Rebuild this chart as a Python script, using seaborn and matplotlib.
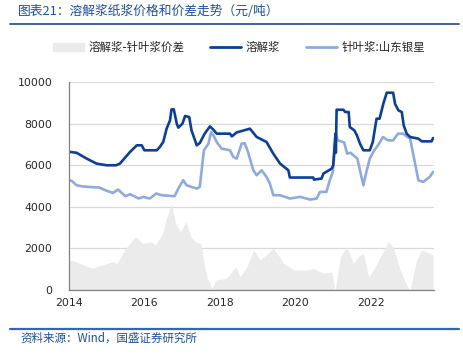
import matplotlib.pyplot as plt
import matplotlib.lines as mlines
import matplotlib.patches as mpatches
import pandas as pd
import seaborn as sns

# 溶解浆 (dark line), fractional year / price
dis_year = [2014.0, 2014.2, 2014.47, 2014.73, 2015.0, 2015.25, 2015.35, 2015.62, 2015.8, 2015.93,
            2016.0, 2016.33, 2016.41, 2016.5, 2016.59, 2016.68, 2016.72, 2016.78, 2016.86, 2016.9,
            2017.01, 2017.08, 2017.19, 2017.25, 2017.39, 2017.47, 2017.6, 2017.74, 2017.83, 2017.92,
            2018.0, 2018.27, 2018.32, 2018.45, 2018.8, 2018.98, 2019.24, 2019.42, 2019.6, 2019.82,
            2019.86, 2020.48, 2020.5, 2020.7, 2020.75, 2020.97, 2021.01, 2021.07, 2021.08, 2021.1,
            2021.14, 2021.28, 2021.33, 2021.42, 2021.45, 2021.57, 2021.64, 2021.72, 2021.81, 2021.98,
            2022.06, 2022.16, 2022.24, 2022.34, 2022.43, 2022.6, 2022.65, 2022.74, 2022.83, 2022.88,
            2022.96, 2023.05, 2023.27, 2023.36, 2023.62, 2023.66]
dis_price = [6650, 6600, 6320, 6080, 6000, 6000, 6080, 6640, 6960, 6960,
             6720, 6720, 6880, 7120, 7760, 8160, 8690, 8690, 8000, 7810,
             8000, 8370, 8320, 7680, 6960, 7070, 7520, 7870, 7710, 7520,
             7520, 7520, 7390, 7580, 7760, 7360, 7120, 6560, 6080, 5760,
             5410, 5410, 5310, 5360, 5600, 5840, 6000, 7520, 6600, 8670,
             8670, 8670, 8560, 8560, 7840, 7680, 7440, 7040, 6720, 6720,
             7120, 8240, 8240, 8960, 9490, 9490, 8960, 8640, 8560, 7920,
             7520, 7360, 7280, 7150, 7150, 7310]

# 针叶浆:山东银星 (light line)
sw_year = [2014.0, 2014.07, 2014.2, 2014.33, 2014.5, 2014.8, 2015.0, 2015.17, 2015.3, 2015.5,
           2015.62, 2015.85, 2015.97, 2016.14, 2016.32, 2016.45, 2016.8, 2016.9, 2017.03, 2017.12,
           2017.25, 2017.39, 2017.47, 2017.52, 2017.58, 2017.7, 2017.77, 2017.83, 2017.92, 2018.05,
           2018.27, 2018.36, 2018.45, 2018.58, 2018.66, 2018.75, 2018.89, 2018.98, 2019.11, 2019.24,
           2019.33, 2019.42, 2019.6, 2019.86, 2020.13, 2020.4, 2020.57, 2020.66, 2020.83, 2020.92,
           2021.0, 2021.04, 2021.08, 2021.13, 2021.3, 2021.38, 2021.47, 2021.65, 2021.72, 2021.81,
           2021.88, 2021.98, 2022.1, 2022.2, 2022.33, 2022.46, 2022.6, 2022.73, 2022.86, 2023.05,
           2023.13, 2023.27, 2023.4, 2023.57, 2023.66]
sw_price = [5280, 5250, 5040, 4990, 4960, 4930, 4770, 4670, 4830, 4510,
            4610, 4400, 4480, 4400, 4640, 4560, 4510, 4880, 5280, 5040,
            4960, 4880, 4960, 5760, 6720, 7040, 7600, 7440, 7120, 6800,
            6720, 6400, 6320, 7040, 7060, 6640, 5760, 5520, 5760, 5440,
            5120, 4560, 4560, 4400, 4480, 4350, 4400, 4720, 4720, 5280,
            5680, 6560, 7520, 7200, 7100, 6560, 6600, 6320, 5760, 5040,
            5600, 6320, 6720, 6960, 7360, 7200, 7200, 7520, 7520, 7280,
            6560, 5280, 5200, 5440, 5680]

# 溶解浆-针叶浆价差 (grey area)
gap_year = [2014.0, 2014.18, 2014.62, 2014.88, 2015.15, 2015.28, 2015.5, 2015.77, 2015.95, 2016.17,
            2016.3, 2016.48, 2016.6, 2016.72, 2016.83, 2016.96, 2017.1, 2017.23, 2017.36, 2017.5,
            2017.58, 2017.67, 2017.79, 2017.9, 2018.17, 2018.43, 2018.54, 2018.72, 2018.9, 2019.07,
            2019.43, 2019.7, 2019.96, 2020.31, 2020.49, 2020.75, 2020.97, 2021.06, 2021.2, 2021.37,
            2021.55, 2021.68, 2021.81, 2021.95, 2022.08, 2022.26, 2022.48, 2022.61, 2022.79, 2022.96,
            2023.05, 2023.22, 2023.36, 2023.66]
gap_value = [1440, 1360, 1040, 1200, 1360, 1280, 2000, 2560, 2240, 2320,
             2160, 2720, 3520, 4160, 3200, 2800, 3280, 2560, 2320, 2240,
             1280, 560, 80, 480, 560, 1120, 640, 1120, 1920, 1440,
             2000, 1280, 960, 960, 1040, 800, 880, 0, 1600, 2080,
             1280, 1600, 1760, 640, 960, 1600, 2320, 2000, 960, 240,
             0, 1440, 1920, 1680]

year_ticks = [2014, 2016, 2018, 2020, 2022]
value_ticks = [0, 2000, 4000, 6000, 8000, 10000]

dark = '#0C3F95'
light = '#8FAADC'
grey = '#EBEBEB'
cjk = ['Noto Sans CJK SC', 'DejaVu Sans']

sns.set_style('white')
plt.rcParams['font.family'] = ['DejaVu Sans', 'Noto Sans CJK SC']

fig = plt.figure(figsize=(4.64, 3.57), dpi=100)
ax = fig.add_axes([0.1487, 0.1877, 0.7863, 0.5823])

ax.fill_between(gap_year, gap_value, 0, color=grey, linewidth=0)
dis_df = pd.DataFrame({'year': dis_year, 'price': dis_price})
sw_df = pd.DataFrame({'year': sw_year, 'price': sw_price})
sns.lineplot(data=sw_df, x='year', y='price', color=light, linewidth=1.9, ax=ax)
sns.lineplot(data=dis_df, x='year', y='price', color=dark, linewidth=1.9, ax=ax)

ax.set_xlim(2014, 2023.68)
ax.set_ylim(0, 10000)
ax.set_xticks(year_ticks)
ax.set_xticklabels([str(y) for y in year_ticks])
ax.set_yticks(value_ticks)
ax.set_yticklabels([str(v) for v in value_ticks])
ax.set_xlabel('')
ax.set_ylabel('')
ax.yaxis.grid(True, color='#D9D9D9', linewidth=0.9)
ax.set_axisbelow(True)
for s in ['top', 'right']:
    ax.spines[s].set_visible(False)
for s in ['left', 'bottom']:
    ax.spines[s].set_color('#808080')
    ax.spines[s].set_linewidth(0.9)
ax.tick_params(axis='x', direction='in', length=3, color='#808080', labelsize=7.8, pad=6)
ax.tick_params(axis='y', length=0, labelsize=7.8, pad=12)

handles = [mpatches.Patch(color=grey, label='溶解浆-针叶浆价差'),
           mlines.Line2D([], [], color=dark, linewidth=2, label='溶解浆'),
           mlines.Line2D([], [], color=light, linewidth=2, label='针叶浆:山东银星')]
fig.legend(handles=handles, loc='center', bbox_to_anchor=(0.515, 0.868), ncol=3, frameon=False,
           prop={'family': cjk, 'size': 8.3}, handlelength=2.7, columnspacing=2.2,
           handletextpad=0.4)

fig.text(0.039, 0.968, '图表21：溶解浆纸浆价格和价差走势（元/吨）', color='#1F4E9A',
         family=cjk, fontsize=9.2, style='italic', va='center')
fig.add_artist(mlines.Line2D([0.022, 0.99], [0.933, 0.933], color='#2F5597', linewidth=1.3))
fig.add_artist(mlines.Line2D([0.022, 0.99], [0.078, 0.078], color='#3565B5', linewidth=1.6))
fig.text(0.043, 0.052, '资料来源：Wind，国盛证券研究所', color='#1F4E9A',
         family=cjk, fontsize=8.3, style='italic', va='center')

fig.savefig('out.png', dpi=100)
